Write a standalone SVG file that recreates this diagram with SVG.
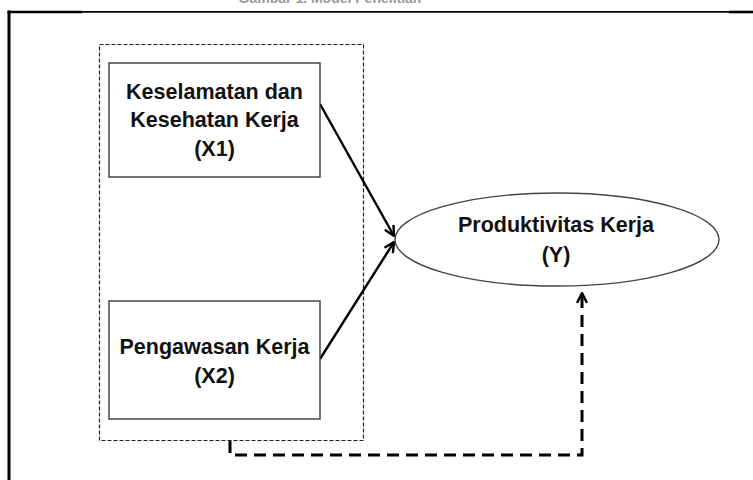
<svg xmlns="http://www.w3.org/2000/svg" width="753" height="480" viewBox="0 0 753 480">
<style>
.lbl{font-family:"Liberation Sans",Arial,sans-serif;font-weight:bold;font-size:21.5px;fill:#111;text-anchor:middle}
.box{fill:#fff;stroke:#3a3a3a;stroke-width:1.4}
.solid{fill:none;stroke:#000;stroke-width:2.4}
.dash{fill:none;stroke:#000;stroke-width:3;stroke-dasharray:12 7}
</style>
<defs>
<marker id="arr" viewBox="0 0 12 12" refX="11" refY="6" markerWidth="12" markerHeight="12" markerUnits="userSpaceOnUse" orient="auto">
<path d="M1,1 L11,6 L1,11" fill="none" stroke="#000" stroke-width="2.4"/>
</marker>
</defs>
<rect width="753" height="480" fill="#fff"/>
<text x="330" y="2.5" font-family="Liberation Sans,Arial,sans-serif" font-weight="bold" font-size="14" fill="#999" text-anchor="middle">Gambar 1. Model Penelitian</text>
<g id="frame">
<line x1="9" y1="10.5" x2="9" y2="480" stroke="#000" stroke-width="3"/>
<line x1="7.5" y1="12" x2="82" y2="12" stroke="#000" stroke-width="2.6"/>
<line x1="82" y1="11.8" x2="729" y2="11.8" stroke="#000" stroke-width="1.8"/>
<line x1="729" y1="12" x2="753" y2="12" stroke="#000" stroke-width="2.6"/>
</g>
<g id="group-x">
<rect x="99.5" y="44.5" width="264" height="396" fill="none" stroke="#222" stroke-width="1.2" stroke-dasharray="4 2"/>
</g>
<g id="connectors">
<line class="solid" x1="320" y1="104" x2="394" y2="236" marker-end="url(#arr)"/>
<line class="solid" x1="320" y1="359" x2="394" y2="242" marker-end="url(#arr)"/>
<polyline class="dash" points="230,441 230,455 582,455 582,293" marker-end="url(#arr)"/>
</g>
<g id="x1">
<rect class="box" x="109" y="63" width="211" height="114"/>
<text class="lbl" x="214.5" y="99">Keselamatan dan</text>
<text class="lbl" x="214.5" y="127">Kesehatan Kerja</text>
<text class="lbl" x="214.5" y="156">(X1)</text>
</g>
<g id="x2">
<rect class="box" x="109" y="301" width="211" height="118"/>
<text class="lbl" x="214.5" y="354">Pengawasan Kerja</text>
<text class="lbl" x="214.5" y="383">(X2)</text>
</g>
<g id="y">
<ellipse cx="557" cy="239.5" rx="162" ry="46.5" fill="#fff" stroke="#444" stroke-width="1.4"/>
<text class="lbl" x="556" y="232">Produktivitas Kerja</text>
<text class="lbl" x="556" y="262">(Y)</text>
</g>
</svg>
